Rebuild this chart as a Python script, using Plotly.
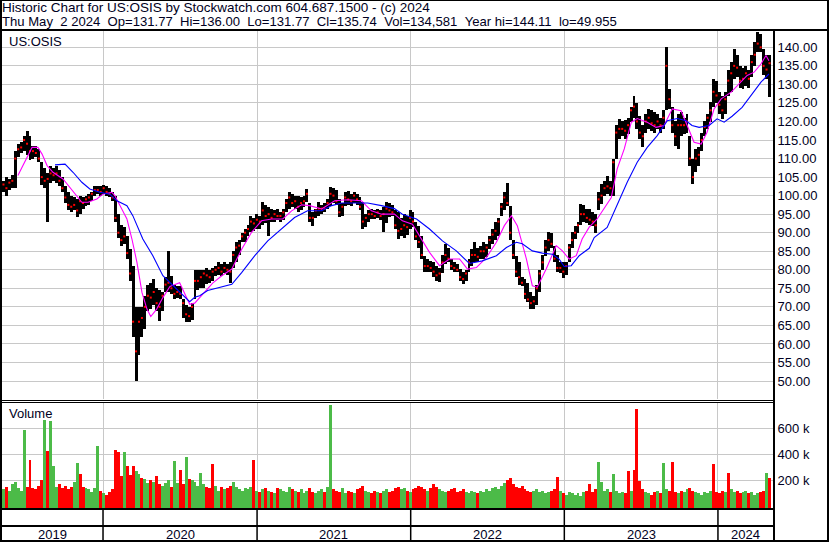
import plotly.graph_objects as go
import pandas as pd

# ---------------- data (weekly) ----------------
start_date = "2019-05-06"

hi = [104, 105, 104.5, 105.5, 112, 114, 114.5, 116, 117.5, 116,
      113.5, 113.5, 112.5, 109, 107.5, 106, 108, 107.5, 108, 107,
      105, 102.5, 101, 100, 99.5, 99, 100, 99.5, 100, 100.4,
      101, 102.5, 102.7, 102.5, 103, 102.5, 102, 101, 100, 95,
      92, 91.5, 89, 85.5, 81, 70, 70, 70, 73, 76,
      76.4, 77.5, 75, 74.5, 74, 78, 85, 78.4, 76, 75.7,
      75.5, 72, 70.5, 70, 71, 80, 80, 80, 80, 80.6,
      80, 80.5, 81, 82, 81.5, 82, 81.5, 82, 85, 87.4,
      88, 90, 91, 92, 94.6, 94, 95, 94.5, 98.2, 97.5,
      97, 96.5, 96, 96.4, 95.5, 96.4, 99, 100.9, 100.5, 100,
      100, 99.5, 100, 101.8, 98, 95.5, 96.5, 98.2, 97.5, 98,
      99, 102.2, 102, 101.5, 99.1, 98, 101, 101.3, 100.5, 101,
      100.5, 99.5, 98.2, 95, 96, 96.4, 96, 96.4, 96, 97,
      98.2, 98, 97.5, 96, 95.5, 94, 95, 94.5, 96, 95.5,
      93, 91.9, 89, 83.8, 83, 82.5, 82, 81, 80.5, 84,
      87, 86, 82.9, 82, 81.5, 80.2, 79.5, 80, 83, 85.5,
      87.4, 86, 86.5, 87.4, 87, 89, 91, 92.8, 94, 98,
      101, 103.4, 97.3, 88, 83.8, 82, 78, 77.5, 76.5, 73.9,
      73, 76, 80, 84, 88, 90.1, 90, 86.5, 84, 82,
      82, 82, 87, 90.1, 91.9, 93, 97.7, 97.5, 96.5, 96.4,
      95.5, 95, 101, 103.1, 104, 105.4, 104, 110, 119, 120.7,
      120, 120.5, 121, 124, 127, 125, 121.6, 119, 122, 123.4,
      123, 122.5, 122, 121, 123, 140, 128.8, 124, 120, 122,
      122.5, 121, 122, 116, 110, 112.6, 113, 117, 120, 122,
      125.2, 131.5, 131, 128, 127, 128, 134, 136, 139.6, 138,
      135, 134.5, 135, 134, 138, 141.3, 144.1, 143.5, 139.6, 138, 137.8]

lo = [101, 100, 101.5, 102, 102, 110.5, 111.5, 112, 111, 109.5,
      110, 110.5, 109, 103, 102, 93, 103.5, 104, 103.5, 102.5,
      101, 98, 96, 95.5, 96, 94.2, 95, 96.5, 97.3, 97.5,
      98.5, 100, 100.5, 100, 100.5, 100, 99.5, 98.5, 93, 88.5,
      86.3, 87, 83, 77, 62, 50, 57, 62, 64, 69,
      69.5, 70.5, 69, 66.3, 69, 73.9, 74, 73.5, 72.1, 72.5,
      72, 67, 66, 66, 66.5, 72, 74.5, 75, 75, 76.1,
      76.5, 77, 78.4, 78.5, 78.4, 79, 78.5, 76.5, 80.5, 82,
      84, 87.4, 87.5, 89, 90.1, 90.5, 91, 91, 92, 92.5,
      89.2, 92.8, 93, 93.5, 93, 93.5, 95.5, 96.4, 97, 96.5,
      95.5, 96, 97, 98.2, 93, 91.9, 94, 94.6, 95, 95.5,
      96.5, 97.3, 98, 97.5, 94.2, 94.5, 97.3, 97.5, 97.3, 98,
      97.5, 96, 91, 91.5, 93, 93.7, 93.7, 94, 93.5, 90.3,
      92.5, 94.2, 94.5, 91, 88.3, 89, 88.5, 89.5, 91, 91.5,
      88, 86, 83, 79.3, 79.5, 79.3, 78, 77, 76.6, 79,
      81.5, 82, 80, 79.3, 79.5, 77, 76.1, 77, 79.5, 81.1,
      82, 82, 82.9, 83, 83.5, 85.6, 87, 88, 89, 94.6,
      96, 97.3, 88, 82.9, 78, 76, 75.7, 72, 71.2, 69.5,
      69.4, 70.5, 73.9, 80, 83.8, 85, 86, 82, 79.3, 79,
      77.9, 78.5, 82, 86, 88.3, 90, 92, 93, 92.5, 92,
      91.9, 90, 96, 97.7, 100, 100.5, 100, 100, 110, 115.3,
      116, 115.3, 116.5, 119.8, 121, 118, 115.3, 113, 117, 118,
      117.5, 117, 118, 117, 118, 123, 123.4, 117, 113.5, 112.6,
      116.2, 116.5, 117, 108, 103.1, 106.3, 108, 112, 116.2, 118,
      119.8, 123.9, 125, 122, 120.7, 122, 127, 128, 131.5, 132,
      129, 128.8, 129.5, 129, 132, 135, 138.7, 138.7, 132.4, 131.5, 126.5]

close = [103, 102, 103.5, 104, 110, 112.5, 113, 115, 114, 112,
         112, 111.5, 110, 105, 104, 104.5, 106, 105.5, 106, 104,
         102, 99.5, 97.5, 97, 97.5, 96, 98.5, 98, 99, 99.5,
         100.5, 101.5, 101.5, 101, 102, 101, 100.5, 99.5, 94, 90,
         88, 89, 84.5, 79, 66, 58, 66, 67, 70, 73,
         72.5, 74, 71, 70, 73, 76, 76.5, 75, 73.5, 74,
         73.5, 71, 68, 67.5, 70, 77, 77, 78, 79, 78.5,
         78, 79.5, 80, 80.5, 79.5, 80.5, 80, 79.5, 84, 86,
         86.5, 89, 90, 91, 93, 92.5, 93.5, 93, 96, 94.5,
         95, 94, 95, 94.5, 94.5, 95.5, 98, 99.5, 98, 98.5,
         97, 98, 98.5, 100.5, 94, 94, 96, 96.5, 96.5, 96.5,
         98, 100.5, 100, 98.5, 95.5, 97, 99.5, 99, 98.5, 100,
         99, 97, 93, 94, 95, 95, 94.5, 95.5, 94.5, 95,
         96.5, 96, 95.5, 92, 90.5, 91, 92, 91.5, 94, 93,
         89, 87.5, 84, 81, 81, 80.5, 79.5, 78.5, 79, 82,
         84, 83, 81, 80.5, 80, 78, 77.5, 79, 82, 84,
         84, 83.5, 85, 85, 86, 88, 89.5, 90.5, 93, 97,
         99.5, 98, 90, 84, 79.5, 78, 76.5, 73.5, 72, 71,
         71.5, 75, 79, 82, 86, 88, 87, 83, 80.5, 80.5,
         79.5, 81, 86, 88, 90, 92, 95, 95, 94, 93.5,
         93, 92, 99, 100, 102, 102.5, 102, 109, 117, 118,
         118, 117.5, 119, 123, 124, 120, 117, 116, 120, 121,
         119.5, 119, 120, 119, 121, 135, 126, 119, 116, 119,
         119, 119, 120, 110, 105, 110, 111, 115, 118.5, 121,
         123, 128, 127, 124.5, 123, 126, 131, 133, 135, 134.5,
         131, 131.5, 133, 131.5, 136, 138, 141, 140, 135, 134, 135.7]

volume_k = [130, 150, 120, 170, 190, 140, 120, 587, 150, 356,
            140, 130, 160, 200, 664, 425, 656, 313, 150, 170,
            140, 160, 130, 150, 190, 330, 246, 150, 140, 130,
            110, 140, 464, 120, 100, 90, 110, 130, 433, 420,
            230, 418, 310, 240, 313, 272, 250, 220, 210, 180,
            200, 190, 230, 170, 160, 180, 200, 150, 349, 180,
            279, 170, 380, 210, 200, 190, 160, 254, 170, 150,
            140, 326, 160, 120, 150, 130, 140, 160, 190, 150,
            130, 120, 140, 130, 150, 356, 120, 110, 130, 140,
            120, 110, 100, 140, 130, 120, 110, 150, 130, 120,
            110, 130, 100, 120, 140, 110, 100, 120, 130, 110,
            150, 777, 130, 120, 110, 140, 100, 120, 110, 100,
            130, 140, 160, 120, 110, 100, 120, 110, 100, 120,
            130, 110, 120, 140, 150, 130, 140, 120, 110, 130,
            140, 160, 150, 130, 120, 140, 170, 150, 130, 120,
            110, 120, 130, 140, 110, 120, 130, 110, 100, 120,
            110, 100, 120, 110, 130, 120, 140, 150, 130, 160,
            180, 200, 220, 170, 150, 140, 160, 130, 120, 110,
            120, 130, 110, 120, 100, 110, 120, 130, 226, 120,
            100, 90, 110, 100, 90, 100, 80, 110, 120, 169,
            110, 130, 341, 185, 120, 130, 110, 249, 120, 100,
            110, 100, 272, 120, 279, 749, 195, 130, 110, 100,
            90, 110, 120, 100, 331, 130, 120, 341, 110, 100,
            120, 110, 130, 140, 120, 110, 100, 90, 110, 100,
            120, 326, 110, 100, 120, 110, 256, 130, 110, 120,
            100, 110, 120, 100, 110, 90, 100, 110, 120, 256, 221]

volume_dir = ("grggggggrr" "rrrrgrgggr" "rrrrggrrgg" "gggrgrrrrr" "rgrrrggrgg"
              "rgrrgggrgg" "rrgrgggggr" "rrggrgrrgg" "gggggrgrgr" "grgrggggrg"
              "rgggrrgggr" "ggrrrggrrg" "rrrggrrgrg" "grrrrggrgr" "rrrrgrrrgg"
              "grrrrrrggg" "grgggggggg" "grrrrrrrrr" "ggggggrrrg" "rgggggggrr"
              "rrggggrggg" "grrgrrrrgg" "rrgrggrrrg" "rggrrggggg" "grrrrgrggr"
              "rggrgggrrgr")

# moving averages (week offset, value)
ma_fast_wk = [5.4, 7.8, 10.2, 12.2, 13.6, 15.3, 17.3, 20.7, 23, 25.4, 27.1, 29.2, 32.2, 34.2,
              37.3, 38.3, 40, 42.4, 44.1, 45.8, 47.5, 49.2, 50.5, 52.5, 54.6, 57, 60.3, 62,
              63.7, 65.4, 67.1, 69.1, 71.5, 74.6, 78, 81.4, 84.7, 88.1, 91.5, 95.3, 98.3,
              101.7, 104.4, 108.5, 112.9, 117.3, 122, 125.4, 128.8, 133.2, 135.9, 139.3,
              142.4, 145.1, 148.5, 151.9, 155.3, 158, 161, 164.4, 167.8, 170.5, 172.9,
              174.9, 178, 180, 181.7, 184.7, 188.1, 190.2, 192.5, 194.9, 196.9, 199.3, 202,
              206.8, 208.8, 211.2, 213.6, 215.6, 219, 222, 224.7, 227.5, 230.5, 232.5,
              234.9, 237.3, 239.3, 241.7, 244.1, 247.5, 250.8, 252.9, 255.3, 257.6, 259.3, 260.3]
ma_fast = [105.4, 109.4, 113, 113, 111.2, 108.1, 106.3, 104.5, 102.2, 100, 98.2, 98.2, 99.1, 100.4,
           100.9, 100, 97.3, 93.7, 88.3, 82, 73.9, 69.4, 67.4, 69.4, 72.5, 75.5, 76.5, 73.6,
           70.7, 71, 72.5, 74.5, 76.4, 78.4, 80.2, 85.6, 90.1, 93.2, 93.7, 93.7, 95.9,
           97.5, 97.3, 96.4, 98.6, 98.9, 98.6, 95.9, 95, 95, 93.2, 92.3,
           88.3, 84.7, 81.1, 82.9, 82.9, 80.2, 80.6, 83.3, 87.4, 91.9, 94.6,
           91.9, 82.9, 75.7, 75.3, 80.2, 86.5, 85.1, 82.9, 83.8, 88.3, 91.5, 93.7,
           99.5, 107.2, 112.6, 119.8, 120.8, 119.8, 118.4, 118.9, 123.4, 122.9, 118.9,
           114.4, 113.9, 117.1, 123.4, 126.1, 127.9, 130.6, 132.4, 133.3, 135.5, 137.8, 136.4]

ma_slow_wk = [18, 21.4, 24.1, 27.1, 29.8, 33.2, 36.6, 39, 42.4, 44.4, 47.8, 51.2, 54.6, 58, 61.4,
              63.7, 65.4, 67.1, 69.8, 74.6, 78, 81.4, 85.8, 90.2, 94.9, 99.3, 103.7, 108.5,
              111.9, 115.3, 119.7, 124.1, 128.8, 133.2, 135.9, 140.7, 145.1, 149.5, 154.2,
              158.6, 163, 167.8, 171.2, 174.6, 176.6, 180, 183.4, 186.8, 189.1, 190.8, 193.2,
              195.9, 199.3, 201, 205.4, 208.8, 212.2, 215.6, 219, 222.4, 225.8, 229.2, 232.2,
              234.2, 236.6, 240, 242.7, 245.1, 247.8, 251.2, 254.6, 257.6, 260.3]
ma_slow = [108.3, 108.5, 106.3, 103.6, 101.8, 100.9, 100.4, 98.6, 97.3, 94.6, 88.3, 83.8, 78.4, 75.7, 73,
           71.4, 72.6, 73, 74.4, 75.5, 76.1, 79.3, 83.8, 87.8, 91, 94.1, 95.9, 95.9,
           97.3, 98, 98, 98, 97.3, 96.5, 95, 93.7, 91, 87.8, 85.1,
           81.7, 82.4, 83.8, 86, 87.4, 87, 85.1, 84.5, 84.2, 82.9, 80.9, 81.1,
           83.8, 85.8, 88.7, 91.4, 97.3, 103.6, 109, 113, 116.2, 120.2, 120.8, 120.2,
           118.9, 118.4, 118.9, 120.7, 119.8, 121.4, 123.8, 127.4, 130.6, 132.8]

price_ticks = [50, 55, 60, 65, 70, 75, 80, 85, 90, 95, 100, 105, 110, 115, 120, 125, 130, 135, 140]
volume_ticks = [200, 400, 600]
year_starts = ["2020-01-01", "2021-01-01", "2022-01-01", "2023-01-01", "2024-01-01"]
year_labels = ["2019", "2020", "2021", "2022", "2023", "2024"]

header1 = "Historic Chart for US:OSIS by Stockwatch.com 604.687.1500 - (c) 2024"
header2 = ("Thu May \u00a02 2024 \u00a0Op=131.77 \u00a0Hi=136.00 \u00a0Lo=131.77 \u00a0Cl=135.74 "
           "\u00a0Vol=134,581 \u00a0Year hi=144.11 \u00a0lo=49.955")

n = len(hi)
assert len(lo) == n and len(close) == n and len(volume_k) == n and len(volume_dir) == n, \
    (len(hi), len(lo), len(close), len(volume_k), len(volume_dir))
assert len(ma_fast_wk) == len(ma_fast), (len(ma_fast_wk), len(ma_fast))
assert len(ma_slow_wk) == len(ma_slow), (len(ma_slow_wk), len(ma_slow))

# ---------------- geometry ----------------
W, H = 830, 543
L, R, T, B = 2, 773, 31, 541
PX_PER_DAY = 0.4209
t0 = pd.Timestamp(start_date)
x_end = t0 + pd.Timedelta(days=(R - L) / PX_PER_DAY)


def fx(px):
    return (px - L) / (R - L)


def fy(py):
    return (B - py) / (B - T)


def price_at(py):
    return 140 - (py - 47.3) / 3.708


def wk_date(w):
    return t0 + pd.Timedelta(days=7 * w)


week_x = [wk_date(i + 0.5) for i in range(n)]
week_ms = 7 * 86400000

FONT = "Liberation Sans, Arial, sans-serif"
TXT = "#000022"
GREEN = "#4cbb48"
RED = "#ff0000"

vol_floor = -(509 - 506.3) / 0.13
vol_top = vol_floor + (509 - 402) / 0.13

fig = go.Figure()

fig.add_trace(go.Bar(
    x=week_x, y=[h - l for h, l in zip(hi, lo)], base=lo, width=week_ms,
    marker=dict(color="#000000", line=dict(width=0)), xaxis="x", yaxis="y",
    hoverinfo="skip", showlegend=False))

fig.add_trace(go.Scatter(
    x=week_x, y=close, mode="markers", xaxis="x", yaxis="y",
    marker=dict(symbol="square", size=2, color=RED, line=dict(width=0)),
    showlegend=False, hoverinfo="skip"))

fig.add_trace(go.Scatter(
    x=[wk_date(w) for w in ma_fast_wk], y=ma_fast, mode="lines", xaxis="x", yaxis="y",
    line=dict(color="#ff00ff", width=1.1), showlegend=False, hoverinfo="skip"))

fig.add_trace(go.Scatter(
    x=[wk_date(w) for w in ma_slow_wk], y=ma_slow, mode="lines", xaxis="x", yaxis="y",
    line=dict(color="#0000ff", width=1.1), showlegend=False, hoverinfo="skip"))

vol_colors = [GREEN if c == "g" else (RED if c == "r" else "#a0a0a0") for c in volume_dir]
fig.add_trace(go.Bar(
    x=week_x, y=[v - vol_floor for v in volume_k], base=vol_floor, width=week_ms,
    marker=dict(color=vol_colors, line=dict(width=0)), xaxis="x2", yaxis="y2",
    hoverinfo="skip", showlegend=False))

axis_common = dict(showline=False, zeroline=False, fixedrange=True, automargin=False)
fig.update_layout(
    width=W, height=H,
    margin=dict(l=L, r=W - R, t=T, b=H - B, pad=0, autoexpand=False),
    paper_bgcolor="white", plot_bgcolor="white",
    barmode="overlay", bargap=0,
    showlegend=False,
    font=dict(family=FONT, size=13, color=TXT),
    xaxis=dict(domain=[0, 1], anchor="y", type="date", range=[t0, x_end],
               tickvals=year_starts, showticklabels=False, ticks="",
               showgrid=True, gridcolor="#c8c8c8", gridwidth=1, **axis_common),
    xaxis2=dict(domain=[0, 1], anchor="y2", type="date", range=[t0, x_end], matches="x",
                tickvals=year_starts, showticklabels=False, ticks="",
                showgrid=True, gridcolor="#c8c8c8", gridwidth=1, **axis_common),
    yaxis=dict(domain=[fy(399), 1], anchor="x", side="right",
               range=[price_at(399), price_at(31)],
               tickvals=price_ticks, ticktext=["%.2f" % v for v in price_ticks],
               ticks="outside", ticklen=1, tickcolor="rgba(0,0,0,0)",
               tickfont=dict(family=FONT, size=13, color=TXT),
               showgrid=True, gridcolor="#c8c8c8", gridwidth=1, **axis_common),
    yaxis2=dict(domain=[fy(509), fy(402)], anchor="x2", side="right",
                range=[vol_floor, vol_top],
                tickvals=volume_ticks, ticktext=["%d k" % v for v in volume_ticks],
                ticks="outside", ticklen=1, tickcolor="rgba(0,0,0,0)",
                tickfont=dict(family=FONT, size=13, color=TXT),
                showgrid=True, gridcolor="#c8c8c8", gridwidth=1, **axis_common),
)

shapes = []


def hline(py, x0, x1, w=1):
    shapes.append(dict(type="line", xref="paper", yref="paper", x0=fx(x0), x1=fx(x1),
                       y0=fy(py), y1=fy(py), line=dict(color="black", width=w)))


def vline(px, y0, y1, w=1):
    shapes.append(dict(type="line", xref="paper", yref="paper", x0=fx(px), x1=fx(px),
                       y0=fy(y0), y1=fy(y1), line=dict(color="black", width=w)))


hline(0.5, 0, 829, 1)
hline(30, 0, 829, 2)
hline(400.5, 2, 774, 1)
hline(402.5, 2, 774, 1)
hline(509, 0, 774, 2)
hline(526, 0, 774, 2)
hline(541, 0, 829, 2)
vline(1, 0, 541, 2)
vline(828, 0, 541, 2)
vline(774, 30, 541, 2)
for ys in year_starts:
    shapes.append(dict(type="line", xref="x", yref="paper", x0=ys, x1=ys,
                       y0=fy(541), y1=fy(509), line=dict(color="black", width=1.5)))

annotations = [
    dict(text=header1, xref="paper", yref="paper", x=fx(0), y=fy(7.5),
         xanchor="left", yanchor="middle", showarrow=False,
         font=dict(family=FONT, size=13.5, color=TXT)),
    dict(text=header2, xref="paper", yref="paper", x=fx(0), y=fy(21.5),
         xanchor="left", yanchor="middle", showarrow=False,
         font=dict(family=FONT, size=13.1, color=TXT)),
    dict(text="US:OSIS", xref="paper", yref="paper", x=fx(7), y=fy(41.5),
         xanchor="left", yanchor="middle", showarrow=False,
         font=dict(family=FONT, size=13, color=TXT)),
    dict(text="Volume", xref="paper", yref="paper", x=fx(7), y=fy(413),
         xanchor="left", yanchor="middle", showarrow=False,
         font=dict(family=FONT, size=13, color=TXT)),
]

bounds = [t0] + [pd.Timestamp(y) for y in year_starts] + [x_end]
for lab, a, b in zip(year_labels, bounds[:-1], bounds[1:]):
    annotations.append(dict(text=lab, xref="x", yref="paper", x=a + (b - a) / 2, y=fy(534),
                            xanchor="center", yanchor="middle", showarrow=False,
                            font=dict(family=FONT, size=13, color=TXT)))

fig.update_layout(shapes=shapes, annotations=annotations)

fig.write_html("out.html", config={"displayModeBar": False, "staticPlot": True})

# remove the browser's default page margin so the figure sits at the window's corner
with open("out.html", "r", encoding="utf-8") as fh:
    html = fh.read()
style = "<style>html,body{margin:0;padding:0;overflow:hidden;}</style>"
if "<head>" in html:
    html = html.replace("<head>", "<head>" + style, 1)
else:
    html = style + html
with open("out.html", "w", encoding="utf-8") as fh:
    fh.write(html)
